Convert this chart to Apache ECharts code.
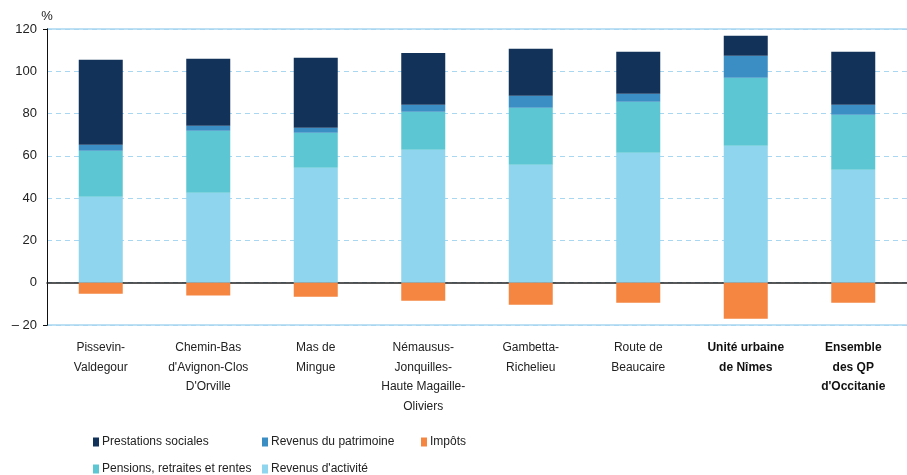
<!DOCTYPE html>
<html>
<head>
<meta charset="utf-8">
<script src="https://cdn.jsdelivr.net/npm/echarts@6/dist/echarts.min.js"></script>
<style>
  html, body { margin: 0; padding: 0; background: #fff; }
  #chart { width: 907px; height: 475px; }
</style>
</head>
<body>
<div id="chart"></div>
<script>
// quartiers
var categories = [
  'Pissevin-\nValdegour',
  "Chemin-Bas\nd'Avignon-Clos\nD'Orville",
  'Mas de\nMingue',
  'Némausus-\nJonquilles-\nHaute Magaille-\nOliviers',
  'Gambetta-\nRichelieu',
  'Route de\nBeaucaire',
  'Unité urbaine\nde Nîmes',
  "Ensemble\ndes QP\nd'Occitanie"
];
var boldCats = ['Unité urbaine\nde Nîmes', "Ensemble\ndes QP\nd'Occitanie"];

// parts du revenu disponible (%)
var revenusActivite = [40.7, 42.6, 54.4, 62.9, 55.8, 61.5, 64.8, 53.4];
var pensions = [21.7, 29.3, 16.5, 18.0, 26.9, 24.1, 32.1, 26.0];
var patrimoine = [2.8, 2.3, 2.4, 3.3, 5.7, 3.8, 10.4, 4.8];
var prestations = [40.2, 31.7, 33.1, 24.5, 22.2, 19.8, 9.5, 25.0];
var impots = [-5.2, -6.1, -6.6, -8.5, -10.4, -9.5, -17.0, -9.5];

var yTicks = [-20, 0, 20, 40, 60, 80, 100, 120];

var FONT = "'Liberation Sans Narrow', 'Liberation Sans', Arial, sans-serif";

var chart = echarts.init(document.getElementById('chart'));

function bar(name, data, color) {
  return {
    name: name,
    type: 'bar',
    stack: 'total',
    data: data,
    barWidth: 44,
    itemStyle: { color: color },
    emphasis: { disabled: true }
  };
}

function leg(name, left, top) {
  return {
    data: [name],
    left: left,
    top: top,
    itemWidth: 6,
    itemHeight: 9,
    itemGap: 4,
    icon: 'rect',
    textStyle: { fontFamily: FONT, fontSize: 12, color: '#222', padding: [0, 0, 0, -2] }
  };
}

chart.setOption({
  animation: false,
  textStyle: { fontFamily: FONT },
  grid: { left: 47, right: -13, top: 29, bottom: 150 },
  legend: [
    leg('Prestations sociales', 88, 431),
    leg('Revenus du patrimoine', 257, 431),
    leg('Impôts', 416, 431),
    leg('Pensions, retraites et rentes', 88, 458),
    leg("Revenus d'activité", 257, 458)
  ],
  xAxis: {
    type: 'category',
    data: categories,
    axisLine: { onZero: true, lineStyle: { color: '#222', width: 1.5 } },
    axisTick: { show: false },
    axisLabel: {
      interval: 0,
      margin: 13,
      lineHeight: 19.5,
      fontSize: 12,
      color: '#222',
      fontFamily: FONT,
      formatter: function (v) {
        return boldCats.indexOf(v) >= 0 ? '{b|' + v + '}' : v;
      },
      rich: { b: { fontWeight: 'bold', fontSize: 12, lineHeight: 19.5, fontFamily: FONT, color: '#111' } }
    }
  },
  yAxis: [
    {
      type: 'value',
      min: -20,
      max: 120,
      interval: 20,
      name: '%',
      nameLocation: 'end',
      nameGap: 6,
      nameTextStyle: { fontFamily: 'Liberation Sans, Arial', fontSize: 13, color: '#222', align: 'center' },
      axisLine: { show: true, lineStyle: { color: '#111', width: 1 } },
      axisTick: { show: false },
      axisLabel: {
        margin: 10,
        fontSize: 13,
        color: '#222',
        fontFamily: 'Liberation Sans, Arial',
        formatter: function (v) {
          if (yTicks.indexOf(v) < 0) return '';
          return v < 0 ? '– ' + Math.abs(v) : String(v);
        }
      },
      splitLine: { lineStyle: { color: '#a9d6f0', type: [5, 4], width: 1 } }
    },
    {
      type: 'value',
      min: -20,
      max: 120,
      interval: 140,
      position: 'left',
      axisLine: { show: true, lineStyle: { color: '#111', width: 1 } },
      axisTick: { show: true, length: 4, lineStyle: { color: '#111' } },
      axisLabel: { show: false },
      splitLine: { show: true, lineStyle: { color: '#a9d6f0', type: 'solid', width: 1.5 } }
    }
  ],
  series: [
    bar("Revenus d'activité", revenusActivite, '#8ed5ed'),
    bar('Pensions, retraites et rentes', pensions, '#5cc7d3'),
    bar('Revenus du patrimoine', patrimoine, '#3a8ec4'),
    bar('Prestations sociales', prestations, '#12325a'),
    bar('Impôts', impots, '#f58642')
  ]
});
</script>
</body>
</html>
